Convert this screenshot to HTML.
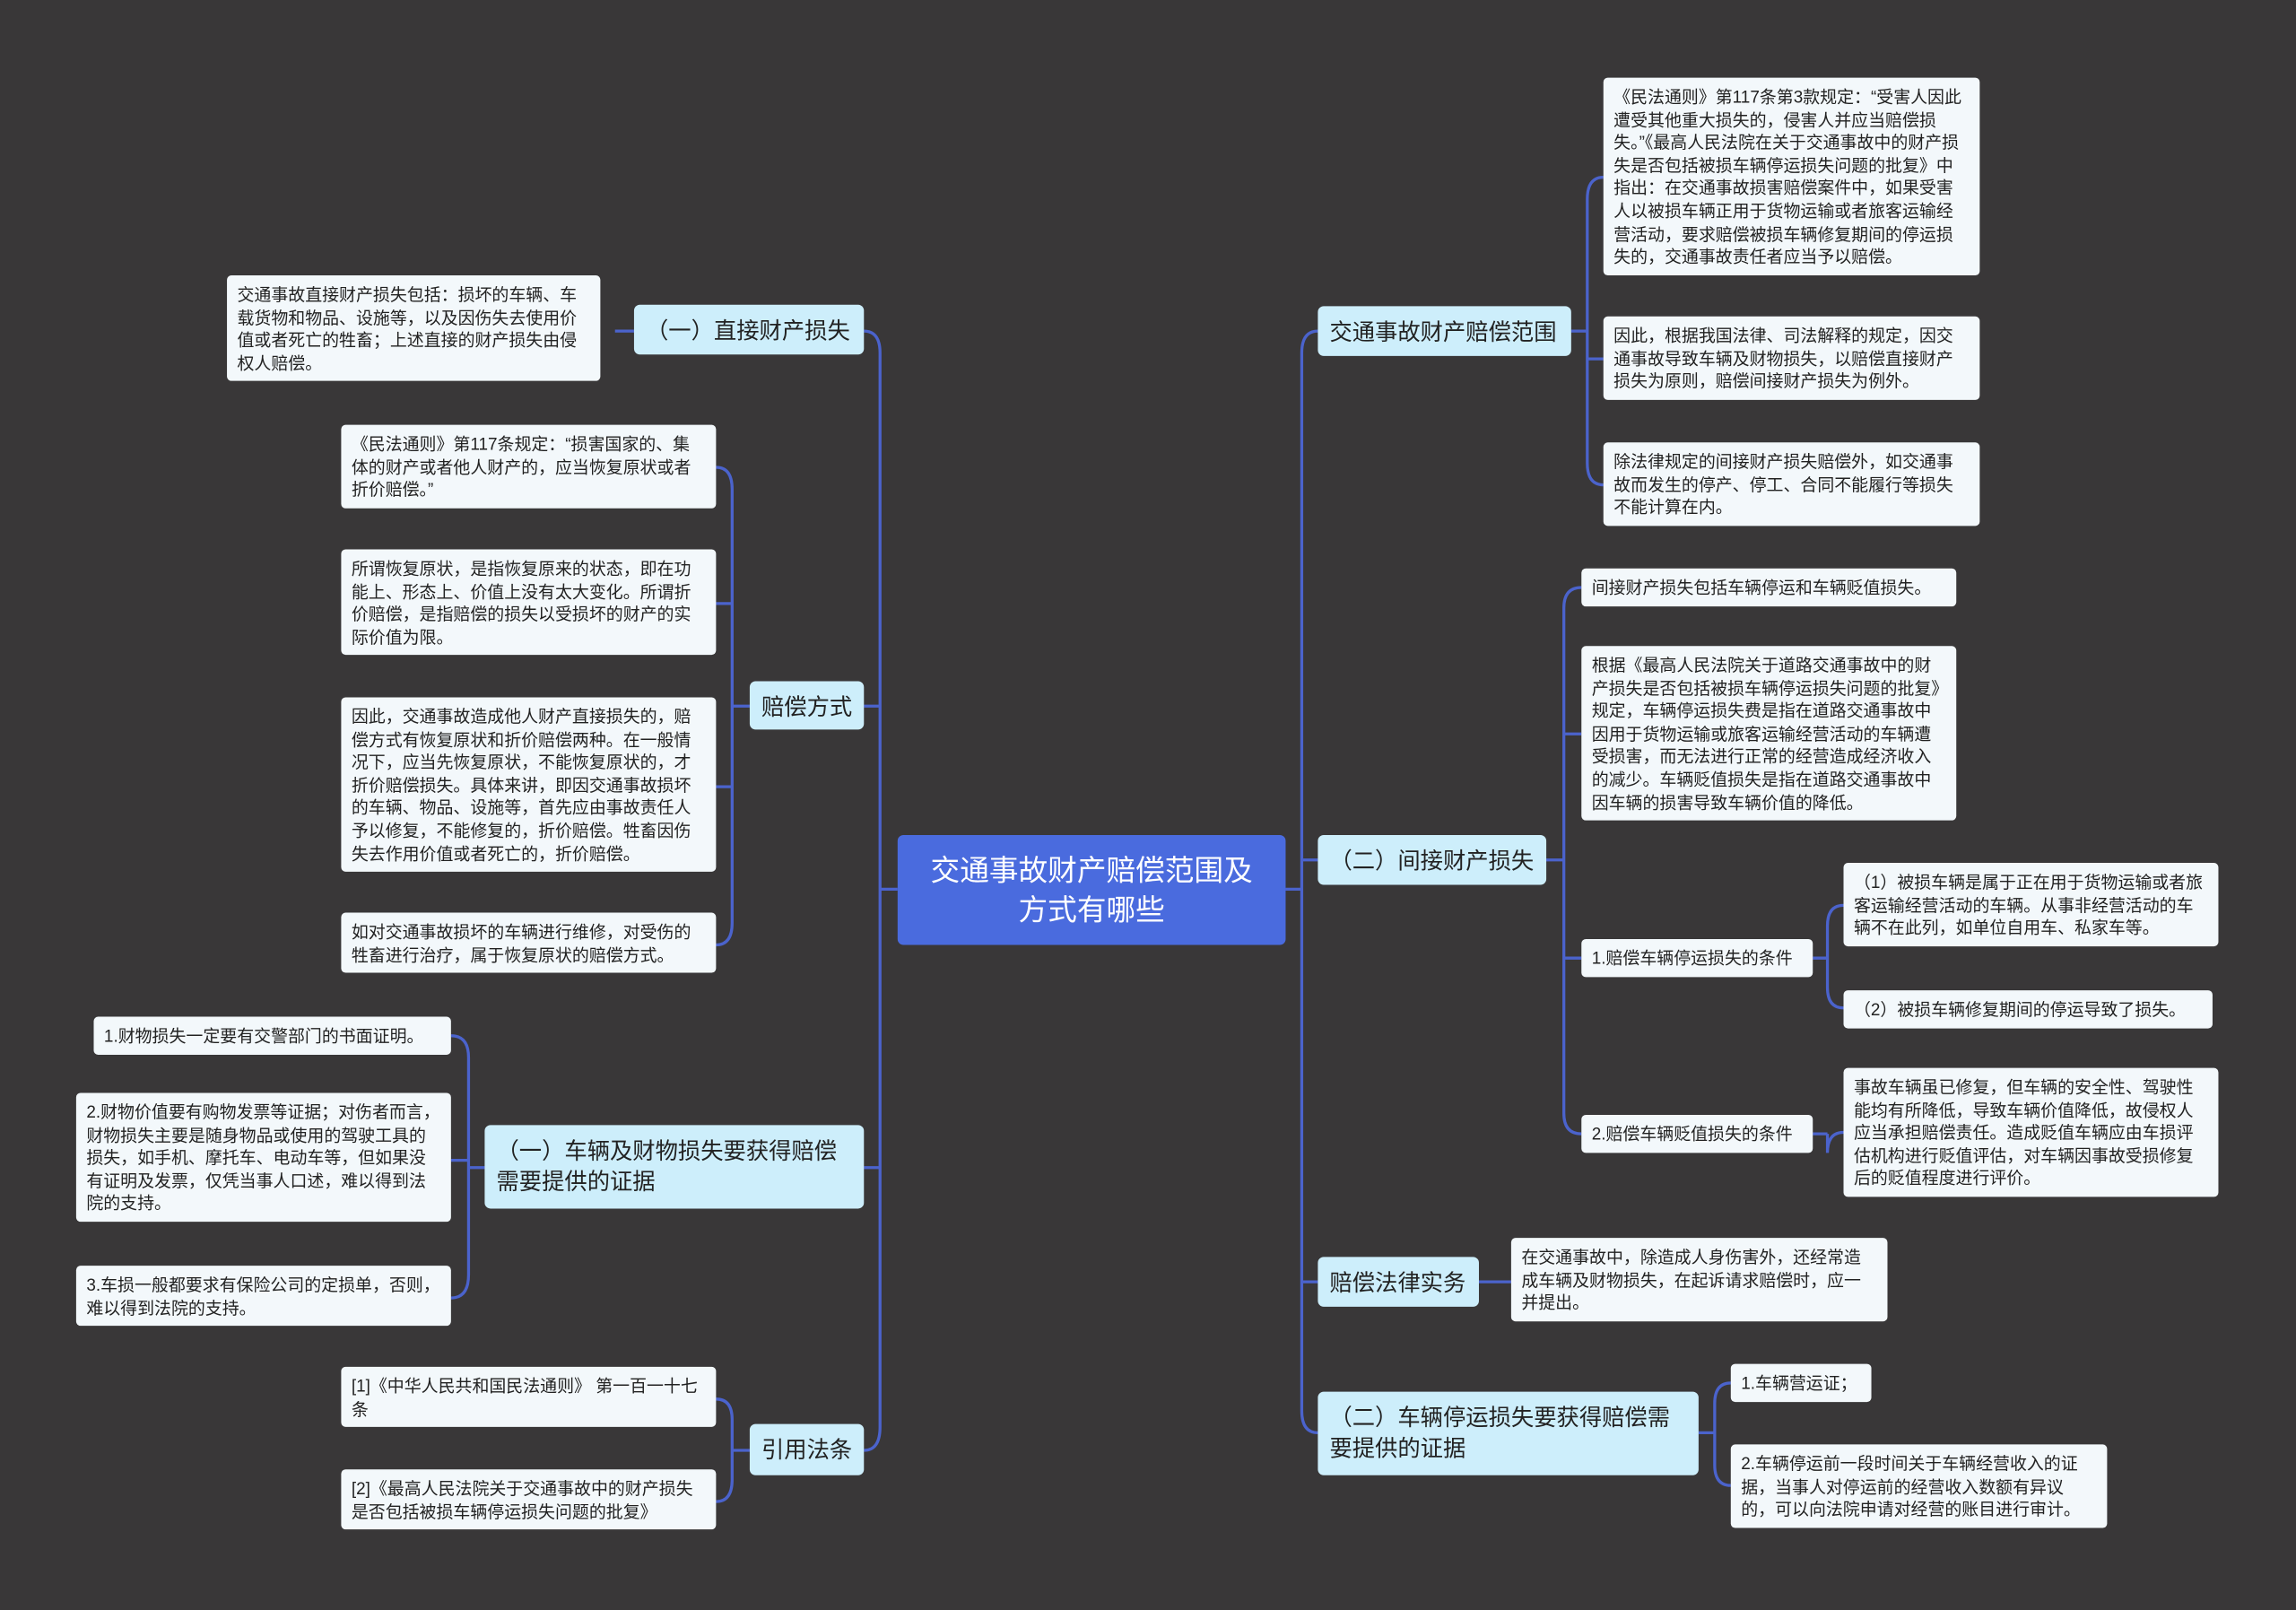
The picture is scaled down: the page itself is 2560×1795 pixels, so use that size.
<!DOCTYPE html>
<html><head><meta charset="utf-8"><style>
html,body{margin:0;padding:0;background:#393738;}
#s{position:absolute;left:0;top:0;width:1568px;height:1099px;transform:scale(1.632653,1.633303);transform-origin:0 0;}
.n{position:absolute;box-sizing:border-box;font-family:"Liberation Sans","Noto Sans CJK SC",sans-serif;color:#222;}
.l{background:#f3f8fb;border-radius:3px;font-size:11.6px;line-height:15.6px;padding:6px 7px 4px 7px;letter-spacing:0;}
.b{background:#cdeefb;border-radius:4px;font-size:15.5px;line-height:21px;padding:8px 8px 5px 8px;}
.c{background:#4a6bde;border-radius:4px;color:#fff;font-size:20px;line-height:27px;text-align:center;padding:12px 16px 8px 16px;}
svg{position:absolute;left:0;top:0;}
</style></head><body><div id="s">
<svg width="1568" height="1099" fill="none" stroke="#4b63cc" stroke-width="2">
<path d="M613 607H601M601 241V974M601 241Q601 226 590 226M601 974Q601 990 590 990M601 482H590M601 797H590"/>
<path d="M512 482H500M500 334V630M500 334Q500 319 489 319M500 630Q500 645 489 645M500 412H489M500 537H489"/>
<path d="M433 226H420"/>
<path d="M331 797H320M320 722V870M320 722Q320 707 308 707M320 870Q320 886 308 886M320 792H308"/>
<path d="M512 990H500M500 969V1010M500 969Q500 955 489 955M500 1010Q500 1025 489 1025"/>
<path d="M878 607H889M889 241V963M889 241Q889 226 900 226M889 963Q889 978 900 978M889 587H900M889 875H900"/>
<path d="M1073 226H1084M1084 136V316M1084 136Q1084 121 1095 121M1084 316Q1084 331 1095 331M1084 245H1095"/>
<path d="M1056 587H1068M1068 415V760M1068 415Q1068 401 1080 401M1068 760Q1068 774 1080 774M1068 501H1080M1068 654H1080"/>
<path d="M1238 654H1248M1248 632V674M1248 632Q1248 618 1259 618M1248 674Q1248 688 1259 688"/>
<path d="M1238 774H1248M1248 787Q1248 773 1259 773M1248 774V787"/>
<path d="M1010 875H1032"/>
<path d="M1160 978H1171M1171 958V1000M1171 958Q1171 944 1182 944M1171 1000Q1171 1014 1182 1014"/>
</svg>

<div class="n c" style="left:613px;top:570px;width:265px;height:75px;">交通事故财产赔偿范围及方式有哪些</div>

<div class="n b" style="left:433px;top:208px;width:157px;height:34px;">（一）直接财产损失</div>
<div class="n l" style="left:155px;top:188px;width:255px;">交通事故直接财产损失包括：损坏的车辆、车载货物和物品、设施等，以及因伤失去使用价值或者死亡的牲畜；上述直接的财产损失由侵权人赔偿。</div>

<div class="n b" style="left:512px;top:465px;width:78px;height:33px;">赔偿方式</div>
<div class="n l" style="left:233px;top:290px;width:256px;">《民法通则》第117条规定：“损害国家的、集体的财产或者他人财产的，应当恢复原状或者折价赔偿。”</div>
<div class="n l" style="left:233px;top:375px;width:256px;">所谓恢复原状，是指恢复原来的状态，即在功能上、形态上、价值上没有太大变化。所谓折价赔偿，是指赔偿的损失以受损坏的财产的实际价值为限。</div>
<div class="n l" style="left:233px;top:476px;width:256px;">因此，交通事故造成他人财产直接损失的，赔偿方式有恢复原状和折价赔偿两种。在一般情况下，应当先恢复原状，不能恢复原状的，才折价赔偿损失。具体来讲，即因交通事故损坏的车辆、物品、设施等，首先应由事故责任人予以修复，不能修复的，折价赔偿。牲畜因伤失去作用价值或者死亡的，折价赔偿。</div>
<div class="n l" style="left:233px;top:623px;width:256px;">如对交通事故损坏的车辆进行维修，对受伤的牲畜进行治疗，属于恢复原状的赔偿方式。</div>

<div class="n b" style="left:331px;top:768px;width:259px;height:57px;">（一）车辆及财物损失要获得赔偿需要提供的证据</div>
<div class="n l" style="left:64px;top:694px;width:244px;">1.财物损失一定要有交警部门的书面证明。</div>
<div class="n l" style="left:52px;top:746px;width:256px;">2.财物价值要有购物发票等证据；对伤者而言，财物损失主要是随身物品或使用的驾驶工具的损失，如手机、摩托车、电动车等，但如果没有证明及发票，仅凭当事人口述，难以得到法院的支持。</div>
<div class="n l" style="left:52px;top:864px;width:256px;">3.车损一般都要求有保险公司的定损单，否则，难以得到法院的支持。</div>

<div class="n b" style="left:512px;top:972px;width:78px;height:35px;">引用法条</div>
<div class="n l" style="left:233px;top:933px;width:256px;">[1]《中华人民共和国民法通则》 第一百一十七条</div>
<div class="n l" style="left:233px;top:1003px;width:256px;">[2]《最高人民法院关于交通事故中的财产损失是否包括被损车辆停运损失问题的批复》</div>

<div class="n b" style="left:900px;top:209px;width:173px;height:34px;">交通事故财产赔偿范围</div>
<div class="n l" style="left:1095px;top:53px;width:257px;">《民法通则》第117条第3款规定：“受害人因此遭受其他重大损失的，侵害人并应当赔偿损失。”《最高人民法院在关于交通事故中的财产损失是否包括被损车辆停运损失问题的批复》中指出：在交通事故损害赔偿案件中，如果受害人以被损车辆正用于货物运输或者旅客运输经营活动，要求赔偿被损车辆修复期间的停运损失的，交通事故责任者应当予以赔偿。</div>
<div class="n l" style="left:1095px;top:216px;width:257px;">因此，根据我国法律、司法解释的规定，因交通事故导致车辆及财物损失，以赔偿直接财产损失为原则，赔偿间接财产损失为例外。</div>
<div class="n l" style="left:1095px;top:302px;width:257px;">除法律规定的间接财产损失赔偿外，如交通事故而发生的停产、停工、合同不能履行等损失不能计算在内。</div>

<div class="n b" style="left:900px;top:570px;width:156px;height:34px;">（二）间接财产损失</div>
<div class="n l" style="left:1080px;top:388px;width:256px;">间接财产损失包括车辆停运和车辆贬值损失。</div>
<div class="n l" style="left:1080px;top:441px;width:256px;">根据《最高人民法院关于道路交通事故中的财产损失是否包括被损车辆停运损失问题的批复》规定，车辆停运损失费是指在道路交通事故中因用于货物运输或旅客运输经营活动的车辆遭受损害，而无法进行正常的经营造成经济收入的减少。车辆贬值损失是指在道路交通事故中因车辆的损害导致车辆价值的降低。</div>
<div class="n l" style="left:1080px;top:641px;width:158px;">1.赔偿车辆停运损失的条件</div>
<div class="n l" style="left:1080px;top:761px;width:158px;">2.赔偿车辆贬值损失的条件</div>
<div class="n l" style="left:1259px;top:589px;width:256px;">（1）被损车辆是属于正在用于货物运输或者旅客运输经营活动的车辆。从事非经营活动的车辆不在此列，如单位自用车、私家车等。</div>
<div class="n l" style="left:1259px;top:676px;width:252px;">（2）被损车辆修复期间的停运导致了损失。</div>
<div class="n l" style="left:1259px;top:729px;width:256px;">事故车辆虽已修复，但车辆的安全性、驾驶性能均有所降低，导致车辆价值降低，故侵权人应当承担赔偿责任。造成贬值车辆应由车损评估机构进行贬值评估，对车辆因事故受损修复后的贬值程度进行评价。</div>

<div class="n b" style="left:900px;top:858px;width:110px;height:34px;">赔偿法律实务</div>
<div class="n l" style="left:1032px;top:845px;width:257px;">在交通事故中，除造成人身伤害外，还经常造成车辆及财物损失，在起诉请求赔偿时，应一并提出。</div>

<div class="n b" style="left:900px;top:950px;width:260px;height:57px;">（二）车辆停运损失要获得赔偿需要提供的证据</div>
<div class="n l" style="left:1182px;top:931px;width:96px;">1.车辆营运证；</div>
<div class="n l" style="left:1182px;top:986px;width:257px;">2.车辆停运前一段时间关于车辆经营收入的证据，当事人对停运前的经营收入数额有异议的，可以向法院申请对经营的账目进行审计。</div>
</div></body></html>
